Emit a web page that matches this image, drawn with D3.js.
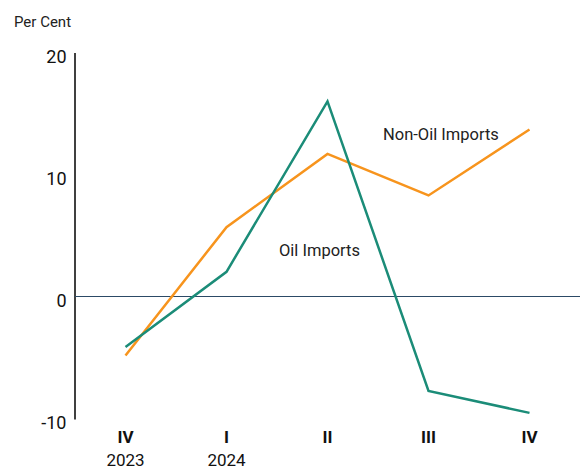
<!DOCTYPE html>
<html>
<head>
<meta charset="utf-8">
<script src="https://cdn.jsdelivr.net/npm/d3@7"></script>
<style>
  html, body { margin: 0; padding: 0; background: #fff; }
  svg { display: block; font-family: Roboto, "Noto Sans", sans-serif; }
</style>
</head>
<body>
<svg id="chart" width="580" height="469"></svg>
<script>
// Quarterly growth of imports, per cent
const quarters = ["IV", "I", "II", "III", "IV"];
const years = ["2023", "2024", "", "", ""];
const oilImports = [-4.1, 2.05, 16.0, -7.7, -9.5];
const nonOilImports = [-4.8, 5.7, 11.7, 8.3, 13.7];
const yTicks = [-10, 0, 10, 20];

const svg = d3.select("#chart");

const x = d3.scalePoint()
  .domain(d3.range(quarters.length))
  .range([75, 580])
  .padding(0.5);

const y = d3.scaleLinear()
  .domain([-10, 20])
  .range([419, 52.5]);

// Vertical axis with tick labels (plain hyphen for negatives)
const yAxis = d3.axisLeft(y).tickValues(yTicks).tickSize(0).tickPadding(8).tickFormat(d => String(d));
const gy = svg.append("g").attr("transform", "translate(74.5,0)").call(yAxis);
gy.select(".domain").attr("stroke", "#000").attr("stroke-width", 1.5);
gy.selectAll("text")
  .attr("font-size", 18)
  .attr("font-family", "Roboto, sans-serif")
  .attr("fill", "#111")
  .attr("dy", "0.53em");

// Unit label
svg.append("text")
  .attr("x", 14).attr("y", 26.5)
  .attr("font-size", 15)
  .attr("fill", "#222")
  .text("Per Cent");

// Zero line, snapped to the pixel grid
const zeroY = Math.floor(y(0)) + 0.5;
svg.append("line")
  .attr("x1", 75).attr("x2", 580)
  .attr("y1", zeroY).attr("y2", zeroY)
  .attr("stroke", "#2c4a66")
  .attr("stroke-width", 1);

// Category labels
const xAxis = svg.append("g");
xAxis.selectAll("text.q")
  .data(quarters)
  .join("text")
  .attr("class", "q")
  .attr("x", (d, i) => x(i))
  .attr("y", 443)
  .attr("text-anchor", "middle")
  .attr("font-size", 17)
  .attr("font-weight", "bold")
  .attr("fill", "#111")
  .text(d => d);
xAxis.selectAll("text.yr")
  .data(years)
  .join("text")
  .attr("class", "yr")
  .attr("x", (d, i) => x(i))
  .attr("y", 465.5)
  .attr("text-anchor", "middle")
  .attr("font-size", 17)
  .attr("fill", "#111")
  .text(d => d);

const line = d3.line()
  .x((d, i) => x(i))
  .y(d => y(d));

svg.append("path")
  .datum(nonOilImports)
  .attr("d", line)
  .attr("fill", "none")
  .attr("stroke", "#f7941d")
  .attr("stroke-width", 2.5)
  .attr("stroke-linejoin", "miter");

svg.append("path")
  .datum(oilImports)
  .attr("d", line)
  .attr("fill", "none")
  .attr("stroke", "#1b8c78")
  .attr("stroke-width", 2.5)
  .attr("stroke-linejoin", "miter");

// Series labels
svg.append("text")
  .attr("x", 383).attr("y", 140)
  .attr("font-size", 16.5)
  .attr("fill", "#222")
  .text("Non-Oil Imports");
svg.append("text")
  .attr("x", 279).attr("y", 256)
  .attr("font-size", 16.5)
  .attr("fill", "#222")
  .text("Oil Imports");
</script>
</body>
</html>
